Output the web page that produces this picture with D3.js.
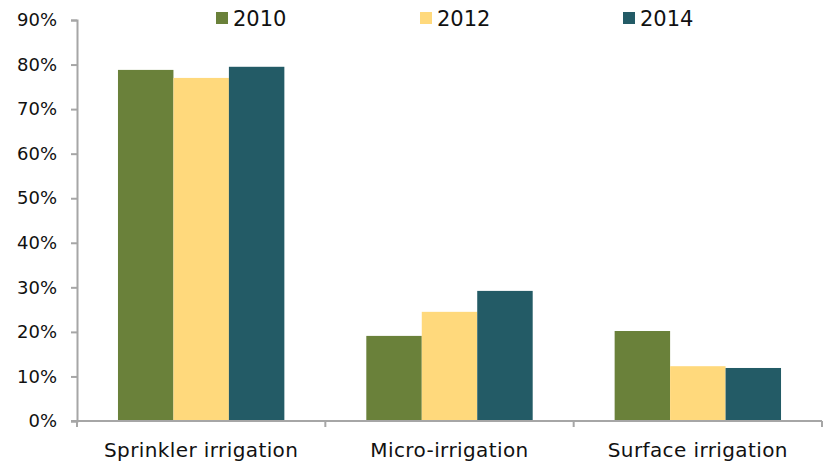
<!DOCTYPE html>
<html>
<head>
<meta charset="utf-8">
<script src="https://cdn.jsdelivr.net/npm/d3@7"></script>
<style>
  body { margin: 0; background: #fff; }
  text { font-family: "DejaVu Sans", sans-serif; fill: #111; }
</style>
</head>
<body>
<svg id="chart" width="825" height="461"></svg>
<script>
let width = 825, height = 461;

let categories = ["Sprinkler irrigation", "Micro-irrigation", "Surface irrigation"];
let years = ["2010", "2012", "2014"];
let values2010 = [78.8, 19.1, 20.2];
let values2012 = [77.0, 24.5, 12.3];
let values2014 = [79.5, 29.2, 11.9];
let yTicks = [0, 10, 20, 30, 40, 50, 60, 70, 80, 90];
let colors = ["#6a813a", "#ffd97c", "#235b66"];

let series = [values2010, values2012, values2014];
let margin = {left: 77, right: 822, top: 20, bottom: 421};

let svg = d3.select('#chart');

let x = d3.scaleBand()
    .domain(categories)
    .range([margin.left, margin.right])
    .paddingInner(0.33)
    .paddingOuter(0.165);

let x1 = d3.scaleBand()
    .domain(years)
    .range([0, x.bandwidth()]);

let y = d3.scaleLinear()
    .domain([0, 90])
    .range([margin.bottom, margin.top]);

// bars
let groups = svg.append('g')
    .selectAll('g')
    .data(categories)
    .enter().append('g')
    .attr('transform', (d) => 'translate(' + x(d) + ',0)');

groups.selectAll('rect')
    .data((c, i) => years.map((yr, j) => ({year: yr, value: series[j][i], color: colors[j]})))
    .enter().append('rect')
    .attr('x', (d) => x1(d.year))
    .attr('width', x1.bandwidth())
    .attr('y', (d) => y(d.value))
    .attr('height', (d) => y(0) - y(d.value))
    .attr('fill', (d) => d.color);

// y axis
let yAxis = svg.append('g')
    .attr('transform', 'translate(' + margin.left + ',0)')
    .call(d3.axisLeft(y).tickValues(yTicks).tickFormat((d) => d + '%').tickSize(6).tickPadding(14));

yAxis.select('.domain').attr('stroke', '#a6a6a6').attr('stroke-width', 2);
yAxis.selectAll('.tick line').attr('stroke', '#a6a6a6').attr('stroke-width', 2);
yAxis.selectAll('text')
    .style('font-family', '"DejaVu Sans", sans-serif')
    .style('font-size', '18px')
    .attr('fill', '#111');

// x axis
let xAxisG = svg.append('g')
    .attr('transform', 'translate(0,' + margin.bottom + ')');

xAxisG.append('line')
    .attr('x1', margin.left - 6).attr('x2', margin.right)
    .attr('stroke', '#a6a6a6').attr('stroke-width', 2);

let edges = [0, 1, 2, 3].map((i) => margin.left + i * (margin.right - margin.left) / 3);
xAxisG.selectAll('.xtick')
    .data(edges)
    .enter().append('line')
    .attr('x1', (d) => d).attr('x2', (d) => d)
    .attr('y1', 0).attr('y2', 6)
    .attr('stroke', '#a6a6a6').attr('stroke-width', 2);

xAxisG.selectAll('.xlabel')
    .data(categories)
    .enter().append('text')
    .attr('x', (d) => x(d) + x.bandwidth() / 2)
    .attr('y', 36)
    .attr('text-anchor', 'middle')
    .style('font-size', '20px')
    .style('letter-spacing', '0.4px')
    .text((d) => d);

// legend
let legendX = [216, 420, 623];
let legend = svg.append('g')
    .selectAll('g')
    .data(years)
    .enter().append('g')
    .attr('transform', (d, i) => 'translate(' + legendX[i] + ',12)');

legend.append('rect')
    .attr('width', 12).attr('height', 12)
    .attr('fill', (d, i) => colors[i]);

legend.append('text')
    .attr('x', 17).attr('y', 14)
    .style('font-size', '21px')
    .text((d) => d);
</script>
</body>
</html>
